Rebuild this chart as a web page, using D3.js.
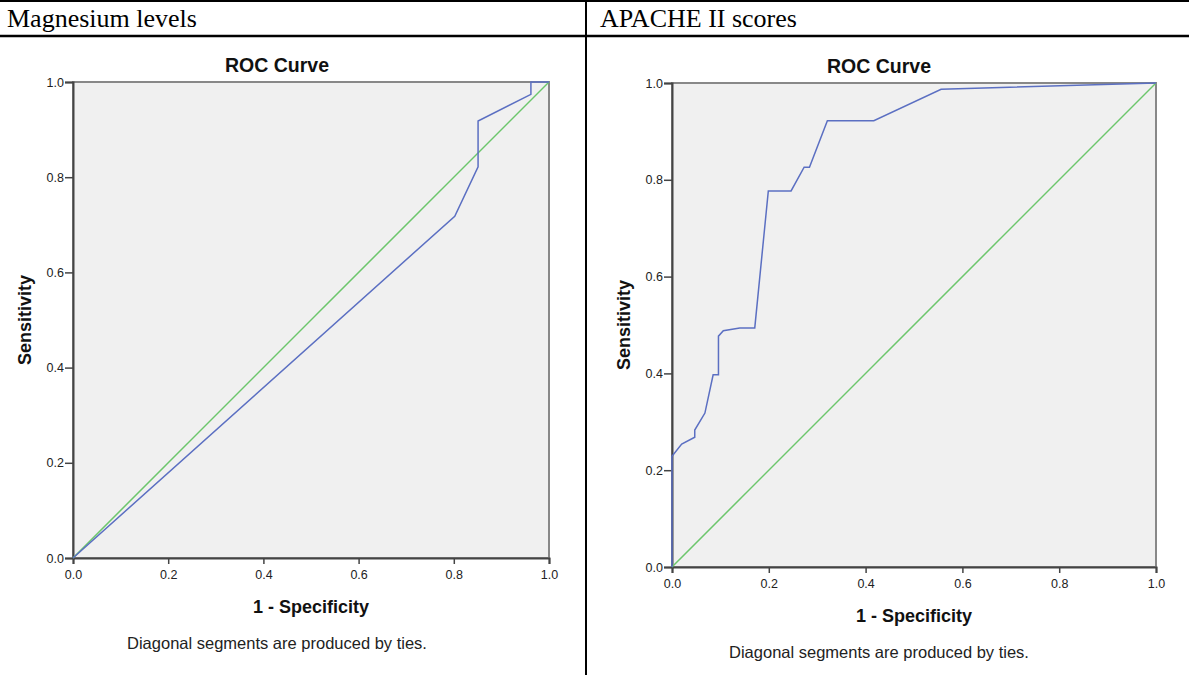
<!DOCTYPE html>
<meta charset="utf-8">
<head>
<script src="https://d3js.org/d3.v7.min.js"></script>
<style>
  body { margin: 0; background: #fff; }
  .tick text { font-family: Arial, "Liberation Sans", sans-serif; font-size: 12.5px; fill: #222; }
  .tick line { stroke: #444; }
  .domain { stroke: #444; stroke-width: 2px; }
</style>
</head>
<body>
<svg width="1189" height="675"></svg>
<script>
// table headers
var headers = ["Magnesium levels", "APACHE II scores"];

// ROC points: 1 - specificity, sensitivity
var magnesiumFpr = [0, 0.802, 0.851, 0.851, 0.962, 0.962, 1];
var magnesiumTpr = [0, 0.718, 0.822, 0.918, 0.974, 1, 1];

var apacheFpr = [0, 0, 0.02, 0.047, 0.047, 0.068, 0.085, 0.096, 0.096, 0.106, 0.14, 0.171, 0.199, 0.246, 0.273, 0.284, 0.321, 0.417, 0.556, 1];
var apacheTpr = [0, 0.229, 0.254, 0.268, 0.283, 0.318, 0.397, 0.397, 0.477, 0.488, 0.494, 0.494, 0.777, 0.777, 0.826, 0.826, 0.922, 0.922, 0.987, 1];

var ticks = [0, 0.2, 0.4, 0.6, 0.8, 1.0];

var svg = d3.select("svg");

// table lines
svg.append("line").attr("x1", 0).attr("x2", 1189).attr("y1", 1).attr("y2", 1).attr("stroke", "#000").attr("stroke-width", 2);
svg.append("line").attr("x1", 0).attr("x2", 1189).attr("y1", 36).attr("y2", 36).attr("stroke", "#000").attr("stroke-width", 2.5);
svg.append("line").attr("x1", 586).attr("x2", 586).attr("y1", 0).attr("y2", 675).attr("stroke", "#000").attr("stroke-width", 2);

svg.selectAll(".hdr").data(headers).enter().append("text")
    .attr("x", function(d, i) { return i == 0 ? 7 : 600; })
    .attr("y", 27)
    .attr("font-family", "'Liberation Serif', 'Times New Roman', serif")
    .attr("font-size", "26px")
    .text(function(d) { return d; });

function panel(opt, fpr, tpr) {
    var x = d3.scaleLinear().domain([0, 1]).range([opt.left, opt.left + opt.size]),
        y = d3.scaleLinear().domain([0, 1]).range([opt.top + opt.size, opt.top]);

    var g = svg.append("g");

    g.append("rect")
        .attr("x", opt.left).attr("y", opt.top)
        .attr("width", opt.size).attr("height", opt.size)
        .attr("fill", "#f0f0f0")
        .attr("stroke", "#888").attr("stroke-width", 2);

    g.append("g")
        .attr("transform", "translate(0," + (opt.top + opt.size) + ")")
        .call(d3.axisBottom(x).tickValues(ticks).tickFormat(d3.format(".1f")).tickSizeOuter(0).tickSize(6).tickPadding(6))
        .selectAll(".tick line").attr("stroke-width", 1.5);

    g.append("g")
        .attr("transform", "translate(" + opt.left + ",0)")
        .call(d3.axisLeft(y).tickValues(ticks).tickFormat(d3.format(".1f")).tickSizeOuter(0).tickSize(8).tickPadding(1))
        .selectAll(".tick line").attr("stroke-width", 1.5);

    // reference diagonal
    g.append("line")
        .attr("x1", x(0)).attr("y1", y(0)).attr("x2", x(1)).attr("y2", y(1))
        .attr("stroke", "#6cc66c").attr("stroke-width", 1.5);

    var pts = fpr.map(function(d, i) { return [d, tpr[i]]; });
    g.append("path")
        .datum(pts)
        .attr("fill", "none")
        .attr("stroke", "#5b6fc2")
        .attr("stroke-width", 1.5)
        .attr("d", d3.line().x(function(d) { return x(d[0]); }).y(function(d) { return y(d[1]); }));

    var font = "Arial, 'Liberation Sans', sans-serif";
    g.append("text")
        .attr("x", opt.center).attr("y", opt.top - 10)
        .attr("text-anchor", "middle")
        .attr("font-family", font).attr("font-weight", "bold").attr("font-size", "19.5px")
        .attr("fill", "#111")
        .text("ROC Curve");

    g.append("text")
        .attr("x", opt.left + opt.size / 2).attr("y", opt.top + opt.size + 55)
        .attr("text-anchor", "middle")
        .attr("font-family", font).attr("font-weight", "bold").attr("font-size", "18px")
        .attr("fill", "#111")
        .text("1 - Specificity");

    g.append("text")
        .attr("transform", "translate(" + (opt.left - 42) + "," + (opt.top + opt.size / 2) + ") rotate(-90)")
        .attr("text-anchor", "middle")
        .attr("font-family", font).attr("font-weight", "bold").attr("font-size", "18px")
        .attr("fill", "#111")
        .text("Sensitivity");

    g.append("text")
        .attr("x", opt.center).attr("y", opt.top + opt.size + 91)
        .attr("text-anchor", "middle")
        .attr("font-family", font).attr("font-size", "16.5px")
        .attr("fill", "#222")
        .text("Diagonal segments are produced by ties.");
}

panel({left: 73, top: 82, size: 476, center: 277}, magnesiumFpr, magnesiumTpr);
panel({left: 672, top: 83, size: 484, center: 879}, apacheFpr, apacheTpr);
</script>
</body>
